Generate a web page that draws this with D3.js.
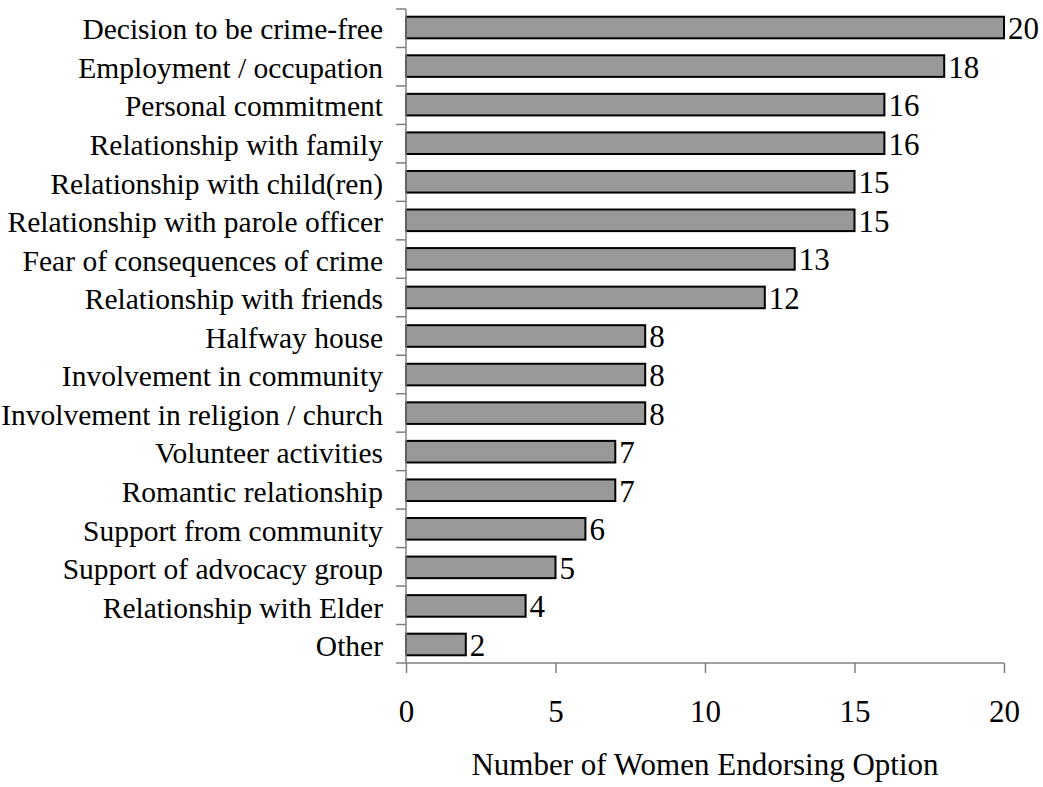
<!DOCTYPE html>
<html>
<head>
<meta charset="utf-8">
<script src="https://cdn.jsdelivr.net/npm/d3@7"></script>
<style>
  body { margin: 0; background: #fff; }
  text { font-family: "Liberation Serif", "Times New Roman", serif; fill: #000; }
</style>
</head>
<body>
<svg id="chart" width="1043" height="787"></svg>
<script>
// reasons for staying crime-free, as counted in the chart
const reasons = ["Decision to be crime-free", "Employment / occupation", "Personal commitment",
  "Relationship with family", "Relationship with child(ren)", "Relationship with parole officer",
  "Fear of consequences of crime", "Relationship with friends", "Halfway house",
  "Involvement in community", "Involvement in religion / church", "Volunteer activities",
  "Romantic relationship", "Support from community", "Support of advocacy group",
  "Relationship with Elder", "Other"]
const counts = [20, 18, 16, 16, 15, 15, 13, 12, 8, 8, 8, 7, 7, 6, 5, 4, 2]
const xTicks = [0, 5, 10, 15, 20]
const xTitle = "Number of Women Endorsing Option"

const svg = d3.select("#chart")
const plotLeft = 406, plotRight = 1004, plotTop = 9, plotBottom = 663
const labelSize = "29.5px"
const numSize = "31px"

const x = d3.scaleLinear().domain([0, 20]).range([plotLeft, plotRight])
const y = d3.scaleBand().domain(reasons).range([plotTop, plotBottom]).paddingInner(0.44).paddingOuter(0.2)

// bars
svg.selectAll("rect.bar")
  .data(reasons)
  .join("rect")
  .attr("class", "bar")
  .attr("x", x(0))
  .attr("y", d => y(d))
  .attr("width", (d, i) => x(counts[i]) - x(0))
  .attr("height", y.bandwidth())
  .attr("fill", "#999999")
  .attr("stroke", "#000")
  .attr("stroke-width", 2)

// value labels
svg.selectAll("text.val")
  .data(reasons)
  .join("text")
  .attr("class", "val")
  .attr("x", (d, i) => x(counts[i]) + 4)
  .attr("y", d => y(d) + y.bandwidth() / 2)
  .attr("dy", "0.37em")
  .style("font-size", numSize)
  .text((d, i) => counts[i])

// y axis: line plus ticks between categories
const step = (plotBottom - plotTop) / reasons.length
const yAxis = svg.append("g").attr("stroke", "#808080").attr("stroke-width", 1.5)
yAxis.append("line").attr("x1", plotLeft).attr("x2", plotLeft).attr("y1", plotTop).attr("y2", plotBottom)
yAxis.selectAll("line.tick")
  .data(d3.range(reasons.length))
  .join("line")
  .attr("class", "tick")
  .attr("x1", plotLeft - 10).attr("x2", plotLeft)
  .attr("y1", i => plotTop + i * step).attr("y2", i => plotTop + i * step)

svg.selectAll("text.cat")
  .data(reasons)
  .join("text")
  .attr("class", "cat")
  .attr("x", 383)
  .attr("y", d => y(d) + y.bandwidth() / 2)
  .attr("dy", "0.4em")
  .attr("text-anchor", "end")
  .style("font-size", labelSize)
  .text(d => d)

// x axis
const xAxis = svg.append("g").attr("transform", `translate(0,${plotBottom})`)
  .call(d3.axisBottom(x).tickValues(xTicks).tickSize(10))
xAxis.select(".domain").attr("stroke", "#808080").attr("stroke-width", 1.5)
  .attr("d", `M${plotLeft - 10},0H${plotRight}`)
xAxis.selectAll(".tick line").attr("stroke", "#808080").attr("stroke-width", 1.5)
xAxis.selectAll(".tick text")
  .attr("y", 59)
  .attr("dy", 0)
  .style("font-family", '"Liberation Serif", serif')
  .style("font-size", numSize)
  .attr("fill", "#000")

svg.append("text")
  .attr("x", (plotLeft + plotRight) / 2)
  .attr("y", 775)
  .attr("text-anchor", "middle")
  .style("font-size", "31px")
  .text(xTitle)
</script>
</body>
</html>
